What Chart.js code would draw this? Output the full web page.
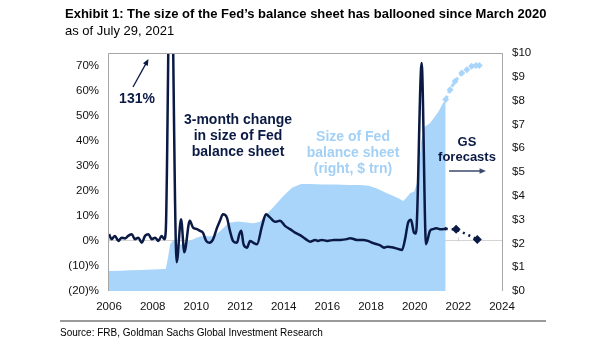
<!DOCTYPE html>
<html>
<head>
<meta charset="utf-8">
<script src="https://cdn.jsdelivr.net/npm/chart.js@4.4.0/dist/chart.umd.min.js"></script>
<style>
  html, body { margin: 0; padding: 0; background: #fff; }
  #wrap { position: relative; width: 605px; height: 341px; font-family: "Liberation Sans", Arial, sans-serif; color: #000; }
  #chart { position: absolute; left: 0; top: 0; }
  .title { position: absolute; left: 65px; top: 6px; font-size: 13px; font-weight: bold; white-space: nowrap; }
  .subtitle { position: absolute; left: 65px; top: 23px; font-size: 13px; white-space: nowrap; }
  .rule { position: absolute; left: 60px; top: 320px; width: 486px; height: 0; border-top: 2px solid #9a9a9a; }
  .source { position: absolute; left: 60px; top: 327px; font-size: 10px; white-space: nowrap; }
</style>
</head>
<body>
<div id="wrap">
  <canvas id="chart" width="605" height="341"></canvas>
  <div class="title">Exhibit 1: The size of the Fed’s balance sheet has ballooned since March 2020</div>
  <div class="subtitle">as of July 29, 2021</div>
  <div class="rule"></div>
  <div class="source">Source: FRB, Goldman Sachs Global Investment Research</div>
</div>
<script>
// 3-month change in size of Fed balance sheet (%, left axis)
const CHG_YEARS = [2006.0, 2006.12, 2006.27, 2006.43, 2006.58, 2006.73, 2006.88, 2007.04, 2007.19, 2007.34,
    2007.5, 2007.65, 2007.8, 2007.96, 2008.11, 2008.26, 2008.41, 2008.53, 2008.6, 2008.82,
    2009.1, 2009.3, 2009.45, 2009.7, 2009.85, 2010.03, 2010.17, 2010.3, 2010.45, 2010.6,
    2010.76, 2010.95, 2011.08, 2011.22, 2011.4, 2011.54, 2011.68, 2011.86, 2011.97, 2012.06,
    2012.16, 2012.32, 2012.46, 2012.6, 2012.78, 2013.01, 2013.19, 2013.38, 2013.6, 2013.83,
    2014.06, 2014.29, 2014.52, 2014.75, 2014.98, 2015.21, 2015.44, 2015.57, 2015.74, 2016.0,
    2016.3, 2016.6, 2016.9, 2017.05, 2017.35, 2017.65, 2017.86, 2018.1, 2018.4, 2018.6,
    2018.75, 2019.05, 2019.42, 2019.56, 2019.7, 2019.83, 2019.97, 2020.06, 2020.32, 2020.52,
    2020.7, 2020.84, 2021.0, 2021.2, 2021.42];
const CHG_VALUES = [2.7, 0.7, 2.0, 0.0, 1.3, 1.0, 2.0, 2.7, 0.7, 1.3,
    -0.7, 2.0, 2.7, 0.7, 1.3, 0.0, 2.0, 0.7, 4.0, 131,
    -8.5, 8.6, -4.5, 8.0, 5.3, 4.7, 4.0, 3.3, 0.0, -0.7,
    0.5, 5.3, 8.0, 10.6, 9.3, 4.0, 0.0, -0.7, 2.7, 4.0,
    -1.3, -2.7, 0.0, -0.7, -1.3, 6.0, 10.6, 9.3, 7.6, 8.0,
    6.0, 4.7, 3.3, 2.3, 0.9, -0.3, 0.4, 0.0, 0.4, 0.0,
    0.4, 0.4, 0.7, 1.1, 0.4, 0.4, 0.0, -0.9, -1.7, -2.7,
    -2.3, -2.7, -3.6, 0.7, 7.3, 8.4, 3.3, 3.0, 71, -1.3,
    4.0, 4.7, 5.0, 4.6, 4.8];

// GS forecast of the 3-month change
const CHG_FC_YEARS = [2021.42, 2021.9, 2022.87];
const CHG_FC_VALUES = [4.8, 4.6, 0.6];

// Size of Fed balance sheet ($ trn, right axis)
const BS_YEARS = [2006.0, 2006.5, 2007.0, 2007.5, 2008.0, 2008.6, 2008.7, 2008.8, 2008.95, 2009.1,
    2009.3, 2009.5, 2009.8, 2010.2, 2010.5, 2010.8, 2011.0, 2011.3, 2011.5, 2011.9,
    2012.3, 2012.6, 2012.9, 2013.2, 2013.5, 2013.8, 2014.1, 2014.4, 2014.8, 2015.2,
    2015.8, 2016.4, 2017.0, 2017.5, 2017.9, 2018.3, 2018.7, 2019.0, 2019.3, 2019.47,
    2019.6, 2019.8, 2019.97, 2020.1, 2020.2, 2020.3, 2020.45, 2020.7, 2020.9, 2021.1,
    2021.3, 2021.42];
const BS_VALUES = [0.84, 0.85, 0.87, 0.88, 0.9, 0.92, 1.4, 1.95, 2.15, 2.0,
    1.95, 2.05, 2.15, 2.3, 2.3, 2.3, 2.45, 2.7, 2.87, 2.92,
    2.88, 2.85, 2.9, 3.2, 3.5, 3.8, 4.1, 4.35, 4.5, 4.5,
    4.48, 4.47, 4.45, 4.45, 4.42, 4.3, 4.12, 4.0, 3.88, 3.78,
    3.9, 4.12, 4.17, 4.5, 5.3, 6.3, 6.9, 7.05, 7.3, 7.55,
    7.9, 8.05];

// GS forecast of the balance sheet
const BS_FC_YEARS = [2021.42, 2021.62, 2021.85, 2022.16, 2022.39, 2022.61, 2022.81, 2022.96];
const BS_FC_VALUES = [8.05, 8.46, 8.81, 9.16, 9.3, 9.44, 9.48, 9.47];

const X_TICKS = [2006, 2008, 2010, 2012, 2014, 2016, 2018, 2020, 2022, 2024];
const LEFT_TICKS = [-20, -10, 0, 10, 20, 30, 40, 50, 60, 70];
const RIGHT_TICKS = [0, 1, 2, 3, 4, 5, 6, 7, 8, 9, 10];

const NAVY = '#0b1a45';
const LIGHT_BLUE = '#a9d5fa';
const FONT = '"Liberation Sans", Arial, sans-serif';

const pts = (xs, ys) => xs.map((x, i) => ({ x: x, y: ys[i] }));

function arrow(ctx, x1, y1, x2, y2, color, width, head) {
    const ang = Math.atan2(y2 - y1, x2 - x1);
    ctx.strokeStyle = color;
    ctx.fillStyle = color;
    ctx.lineWidth = width;
    ctx.beginPath();
    ctx.moveTo(x1, y1);
    ctx.lineTo(x2 - Math.cos(ang) * head * 0.8, y2 - Math.sin(ang) * head * 0.8);
    ctx.stroke();
    ctx.beginPath();
    ctx.moveTo(x2, y2);
    ctx.lineTo(x2 - head * Math.cos(ang - 0.4), y2 - head * Math.sin(ang - 0.4));
    ctx.lineTo(x2 - head * Math.cos(ang + 0.4), y2 - head * Math.sin(ang + 0.4));
    ctx.closePath();
    ctx.fill();
}

const decor = {
    id: 'decor',
    beforeDatasetsDraw(chart) {
        // small tick marks along the zero line
        const { ctx, scales: { x, y } } = chart;
        const y0 = Math.round(y.getPixelForValue(0)) + 0.5;
        ctx.save();
        ctx.strokeStyle = '#d0d0d0';
        ctx.lineWidth = 1;
        X_TICKS.forEach(v => {
            const px = Math.round(x.getPixelForValue(v)) + 0.5;
            ctx.beginPath();
            ctx.moveTo(px, y0);
            ctx.lineTo(px, y0 - 4);
            ctx.stroke();
        });
        ctx.restore();
    },
    afterDatasetsDraw(chart) {
        const { ctx, chartArea: a } = chart;
        ctx.save();
        // plot frame
        ctx.strokeStyle = '#a6a6a6';
        ctx.lineWidth = 1;
        ctx.beginPath();
        ctx.moveTo(a.left - 0.5, a.bottom);
        ctx.lineTo(a.left - 0.5, a.top + 0.5);
        ctx.lineTo(a.right + 0.5, a.top + 0.5);
        ctx.lineTo(a.right + 0.5, a.bottom);
        ctx.stroke();

        ctx.textAlign = 'center';
        ctx.textBaseline = 'middle';

        ctx.fillStyle = NAVY;
        ctx.font = 'bold 14px ' + FONT;
        ctx.fillText('131%', 137, 99);
        ctx.fillText('3-month change', 238, 120);
        ctx.fillText('in size of Fed', 238, 136);
        ctx.fillText('balance sheet', 238, 152);

        ctx.font = 'bold 13px ' + FONT;
        ctx.fillText('GS', 467, 142);
        ctx.fillText('forecasts', 467, 157);

        ctx.fillStyle = '#a3d0f5';
        ctx.font = 'bold 14px ' + FONT;
        ctx.fillText('Size of Fed', 353, 137);
        ctx.fillText('balance sheet', 353, 153);
        ctx.fillText('(right, $ trn)', 353, 169);

        arrow(ctx, 133, 87, 148.5, 59, NAVY, 1.3, 7);
        arrow(ctx, 449, 171, 486, 171, '#3b4a6b', 1.5, 7);
        ctx.restore();
    }
};

new Chart(document.getElementById('chart'), {
    type: 'line',
    data: {
        datasets: [{
            label: '3-month change',
            data: pts(CHG_YEARS, CHG_VALUES),
            yAxisID: 'y',
            borderColor: NAVY,
            borderWidth: 2.5,
            pointRadius: 0,
            cubicInterpolationMode: 'monotone',
            order: 1
        }, {
            label: '3-month change forecast',
            data: pts(CHG_FC_YEARS, CHG_FC_VALUES),
            yAxisID: 'y',
            borderColor: NAVY,
            borderWidth: 2.5,
            borderDash: [2, 4],
            pointStyle: 'rectRot',
            pointRadius: [2, 4.5, 4.5],
            pointBackgroundColor: NAVY,
            pointBorderWidth: 0,
            order: 0
        }, {
            label: 'Balance sheet forecast',
            data: pts(BS_FC_YEARS, BS_FC_VALUES),
            yAxisID: 'y2',
            borderColor: LIGHT_BLUE,
            borderWidth: 3,
            borderDash: [4, 3],
            pointStyle: 'rectRot',
            pointRadius: 3.5,
            pointBackgroundColor: LIGHT_BLUE,
            pointBorderWidth: 0,
            order: 2
        }, {
            label: 'Size of Fed balance sheet',
            data: pts(BS_YEARS, BS_VALUES),
            yAxisID: 'y2',
            fill: 'origin',
            backgroundColor: LIGHT_BLUE,
            borderColor: LIGHT_BLUE,
            borderWidth: 0,
            pointRadius: 0,
            tension: 0,
            order: 3
        }]
    },
    options: {
        responsive: false,
        animation: false,
        layout: {
            padding: { top: 53, left: 0, right: 0, bottom: 0 }
        },
        plugins: {
            legend: { display: false },
            tooltip: { enabled: false }
        },
        scales: {
            x: {
                type: 'linear',
                min: 2006,
                max: 2024,
                afterBuildTicks: (scale) => { scale.ticks = X_TICKS.map(v => ({ value: v })); },
                afterFit: (scale) => { scale.height = 50; },
                ticks: {
                    padding: 9,
                    maxRotation: 0,
                    color: '#111',
                    font: { family: FONT, size: 11.5 },
                    callback: (value) => String(value)
                },
                grid: { display: false, drawTicks: false },
                border: { display: false }
            },
            y: {
                position: 'left',
                min: -20,
                max: 75,
                afterBuildTicks: (scale) => { scale.ticks = LEFT_TICKS.map(v => ({ value: v })); },
                afterFit: (scale) => { scale.width = 109; },
                ticks: {
                    padding: 10,
                    color: '#111',
                    font: { family: FONT, size: 11.5 },
                    callback: (value) => value < 0 ? '(' + (-value) + ')%' : value + '%'
                },
                grid: {
                    drawTicks: false,
                    color: (ctx) => ctx.tick && ctx.tick.value === 0 ? '#d4d4d4' : 'rgba(0,0,0,0)'
                },
                border: { display: false }
            },
            y2: {
                position: 'right',
                min: 0,
                max: 10,
                afterBuildTicks: (scale) => { scale.ticks = RIGHT_TICKS.map(v => ({ value: v })); },
                afterFit: (scale) => { scale.width = 103; },
                ticks: {
                    padding: 10,
                    color: '#111',
                    font: { family: FONT, size: 11.5 },
                    callback: (value) => '$' + value
                },
                grid: { display: false, drawTicks: false },
                border: { display: false }
            }
        }
    },
    plugins: [decor]
});
</script>
</body>
</html>
